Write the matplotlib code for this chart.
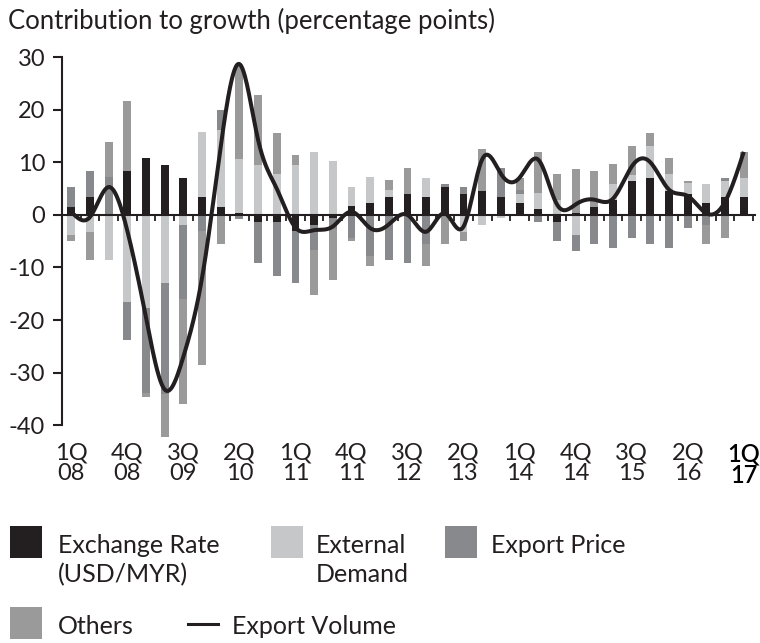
import numpy as np
import matplotlib
matplotlib.use("Agg")
import matplotlib.pyplot as plt
from matplotlib.patches import Rectangle
from matplotlib.lines import Line2D

plt.rcParams['font.family'] = ['Lato', 'DejaVu Sans']
plt.rcParams['axes.unicode_minus'] = False

# quarters 1Q08 .. 1Q17
quarters = [f"{q}Q\n{y:02d}" for y in range(8, 17) for q in range(1, 5)] + ["1Q\n17"]

exchange_rate = [1.6, 3.5, 0.0, 8.4, 10.8, 9.5, 7.1, 3.5, 1.6, 0.4,
                 -1.3, -1.3, -3.0, -1.9, -0.6, 1.7, 2.2, 3.5, 4.0, 3.5,
                 5.3, 4.0, 4.6, 3.5, 2.2, 1.1, -1.3, 0.4, 1.6, 2.9,
                 6.5, 7.1, 4.6, 4.0, 2.2, 3.5, 3.5]
external_demand = [-3.8, -3.2, -8.6, -16.5, -17.8, -12.9, -1.9, 12.2, 14.6, 10.3,
                   9.5, 7.8, 9.5, 11.9, 10.2, 3.7, 5.0, 1.3, 0.0, 3.6,
                   0.0, -3.2, -1.9, -0.6, 1.8, 3.0, 2.9, -3.8, 0.0, 3.0,
                   1.1, 6.0, 3.2, 2.0, 3.6, 3.0, 3.6]
export_price = [3.7, 4.9, 7.3, -7.2, -16.1, -21.1, -14.0, -3.0, 3.7, -0.8,
                -7.9, -10.3, -9.9, -4.8, -2.0, -4.4, -7.9, -8.6, -9.2, -5.5,
                0.6, 1.3, 0.0, 5.4, 0.8, -1.4, -3.6, -3.0, -5.5, -6.2,
                -4.3, -5.5, -6.2, -2.5, -1.9, 0.6, 0.0]
others = [-1.1, -5.4, 6.5, 13.2, -0.8, -8.3, -20.0, -25.6, -5.5, 17.9,
          13.3, 7.7, 1.9, -8.6, -9.7, -0.5, -1.8, 1.8, 4.9, -4.2,
          -5.5, -1.7, 7.9, 0.0, 2.2, 7.8, 4.9, 8.4, 6.8, 3.7,
          5.5, 2.4, 3.0, 0.5, -3.6, -4.3, 4.8]
export_volume = [0.6, -0.4, 5.3, -3.0, -19.5, -33.2, -27.0, -12.0, 13.0, 28.7,
                 14.3, 5.0, -2.4, -2.9, -2.2, 0.6, -2.5, -1.8, 0.0, -3.2,
                 0.3, -2.2, 10.6, 7.8, 7.1, 10.5, 2.0, 2.0, 2.9, 3.1,
                 9.2, 10.0, 4.8, 3.6, 0.3, 2.5, 12.0]

series = [("Exchange Rate\n(USD/MYR)", exchange_rate, "#231f20"),
          ("External\nDemand", external_demand, "#c6c7c9"),
          ("Export Price", export_price, "#88898c"),
          ("Others", others, "#9b9a9b")]
line_color = "#231f20"


def natural_spline(y, n=30):
    # smooth curve through quarterly points (natural cubic spline)
    y = np.asarray(y, dtype=float)
    N = len(y)
    A = np.zeros((N, N))
    b = np.zeros(N)
    A[0, 0] = A[-1, -1] = 1
    for i in range(1, N - 1):
        A[i, i - 1], A[i, i], A[i, i + 1] = 1, 4, 1
        b[i] = 6 * (y[i + 1] - 2 * y[i] + y[i - 1])
    M = np.linalg.solve(A, b)
    xs, ys = [], []
    t = np.linspace(0, 1, n, endpoint=False)
    for i in range(N - 1):
        s = (M[i] * (1 - t) ** 3 / 6 + M[i + 1] * t ** 3 / 6
             + (y[i] - M[i] / 6) * (1 - t) + (y[i + 1] - M[i + 1] / 6) * t)
        xs.append(i + t)
        ys.append(s)
    xs.append([N - 1])
    ys.append([y[-1]])
    return np.concatenate(xs), np.concatenate(ys)


fig = plt.figure(figsize=(7.6, 6.43), dpi=100)
ax = fig.add_axes([0.0822, 0.3142, 0.9117, 0.605])

x = np.arange(len(quarters))
pos = np.zeros(len(x))
neg = np.zeros(len(x))
for name, vals, col in series:
    v = np.array(vals)
    bottom = np.where(v >= 0, pos, neg)
    ax.bar(x, v, width=0.42, bottom=bottom, color=col, linewidth=0, zorder=2)
    pos += np.where(v >= 0, v, 0)
    neg += np.where(v < 0, v, 0)

sx, sy = natural_spline(export_volume)
ax.plot(sx, sy, color=line_color, lw=2.9, zorder=4, solid_capstyle='butt')

ax.set_xlim(-0.47, 36.62)
ax.set_ylim(-43, 31)

for s in ['top', 'right']:
    ax.spines[s].set_visible(False)
ax.spines['left'].set_bounds(-40, 30)
ax.spines['left'].set_linewidth(1.5)
ax.spines['left'].set_color(line_color)
ax.spines['bottom'].set_position(('data', 0))
ax.spines['bottom'].set_linewidth(1.5)
ax.spines['bottom'].set_color(line_color)
ax.spines['bottom'].set_zorder(3)

ax.set_yticks(range(-40, 31, 10))
ax.set_yticklabels([str(v) for v in range(-40, 31, 10)])
ax.tick_params(axis='y', length=6.5, width=1.5, color=line_color, pad=6,
               labelsize=17, labelcolor=line_color)

ax.set_xticks([])
ax.set_xticks(np.arange(len(quarters)) + 0.5, minor=True)
ax.tick_params(axis='x', which='minor', length=4, width=1.3, color=line_color,
               direction='out')

sec = ax.secondary_xaxis(0.0)
sec.set_xticks(x[::3])
sec.set_xticklabels(quarters[::3], linespacing=0.95)
sec.tick_params(length=0, pad=1, labelsize=17, labelcolor=line_color)
sec.spines['bottom'].set_visible(False)
# latest quarter is set a little heavier in the original
sec.get_xticklabels()[-1].set_fontweight('semibold')
sec.get_xticklabels()[-1].set_color('black')

fig.text(8 / 760, 1 - 29 / 643, "Contribution to growth (percentage points)",
         fontsize=18.5, color=line_color, va='baseline', ha='left')


# legend, drawn in figure pixel coordinates
def px(xp, yp):
    return xp / 760, 1 - yp / 643


def legend_text(xp, yp, txt):
    for k, line in enumerate(txt.split("\n")):
        fig.text(*px(xp, yp + k * 29), line, fontsize=18, color=line_color,
                 va='baseline', ha='left')


legend_items = [(10, 526, 58, 553, series[0]),
                (271, 526, 316, 553, series[1]),
                (445, 526, 491, 553, series[2]),
                (10, 607, 58, 634, series[3])]
for bx, by, tx, ty, (name, vals, col) in legend_items:
    fig.add_artist(Rectangle(px(bx, by + 32), 32 / 760, 32 / 643,
                             transform=fig.transFigure, color=col, lw=0))
    legend_text(tx, ty, name)

fig.add_artist(Line2D([188 / 760, 218 / 760], [1 - 624 / 643] * 2,
                      transform=fig.transFigure, color=line_color, lw=2.2))
legend_text(232, 634, "Export Volume")

fig.savefig("out.png", dpi=100)
